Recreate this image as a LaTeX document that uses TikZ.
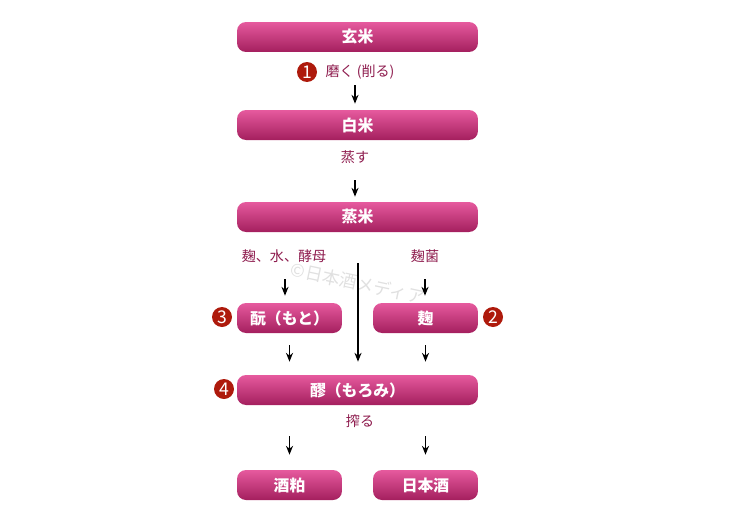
\documentclass[tikz,border=0pt]{standalone}
\usepackage{fontspec}
\setmainfont{Noto Sans CJK JP}
\usetikzlibrary{positioning,arrows.meta}

\definecolor{boxTop}{HTML}{E65A9E}
\definecolor{boxBot}{HTML}{A41F5E}
\definecolor{labRed}{HTML}{8E1C4E}
\definecolor{numRed}{HTML}{AE1A0C}

\tikzset{
    stage/.style = {rounded corners = 0.18cm, top color = boxTop, bottom color = boxBot, draw = none,
        minimum height = 0.6cm, text = white, font = \bfseries\fontsize{9}{9}\selectfont},
    wide/.style = {stage, minimum width = 4.82cm},
    half/.style = {stage, minimum width = 2.1cm},
    lab/.style = {text = labRed, font = \fontsize{8}{8}\selectfont},
    num/.style = {circle, fill = numRed, text = white, inner sep = 0pt, minimum size = 0.4cm,
        font = \fontsize{10}{10}\selectfont},
    arr/.style = {thick, -{Stealth[length = 5pt, width = 4pt]}},
}

\begin{document}
\begin{tikzpicture}[x = 0.02cm, y = -0.02cm]

        \useasboundingbox (0, 0) rectangle (750, 521);

        % watermark
        \node[rotate = -12, text = black!12, font = \fontsize{10}{10}\selectfont] (mark) at (358, 283) {©日本酒メディア};

        % main steps
        \node[wide] (genmai)  at (357.5,  37) {玄米};
        \node[wide] (hakumai) at (357.5, 125) {白米};
        \node[wide] (mushi)   at (357.5, 217) {蒸米};
        \node[half] (moto)    at (289.5, 318) {酛（もと）};
        \node[half] (koji)    at (425.5, 318) {麹};
        \node[wide] (moromi)  at (357.5, 390) {醪（もろみ）};
        \node[half] (kasu)    at (289.5, 485) {酒粕};
        \node[half] (sake)    at (425.5, 485) {日本酒};

        % step labels
        \node[lab] (polish)  at (360,  72) {磨く (削る)};
        \node[lab] (steam)   at (355, 157) {蒸す};
        \node[lab] (inputs)  at (284, 256) {麹、水、酵母};
        \node[lab] (spores)  at (425, 256) {麹菌};
        \node[lab] (press)   at (360, 421) {搾る};

        % numbers
        \node[num] (n1) at (307,  72) {1};
        \node[num] (n2) at (493, 317) {2};
        \node[num] (n3) at (222, 317) {3};
        \node[num] (n4) at (224, 389) {4};

        % arrows
        \coordinate (a1) at (355,  85);
        \coordinate (a2) at (355, 180);
        \coordinate (a3) at (285, 279);
        \coordinate (a4) at (425, 279);
        \coordinate (a5) at (358, 263);
        \draw[arr, shorten >= 0.12cm] (a1) -- (a1 |- hakumai.north);
        \draw[arr, shorten >= 0.1cm]  (a2) -- (a2 |- mushi.north);
        \draw[arr, shorten >= 0.14cm] (a3) -- (a3 |- moto.north);
        \draw[arr, shorten >= 0.14cm] (a4) -- (a4 |- koji.north);
        \draw[arr, shorten >= 0.26cm] (a5) -- (a5 |- moromi.north);
        \foreach \from in {moto, koji} {
            \draw[arr, shorten <= 0.24cm, shorten >= 0.26cm] (\from.south) -- (\from.south |- moromi.north);
        }
        \foreach \to in {kasu, sake} {
            \draw[arr, shorten <= 0.62cm, shorten >= 0.3cm] (\to.north |- moromi.south) -- (\to.north);
        }

    \end{tikzpicture}
\end{document}
